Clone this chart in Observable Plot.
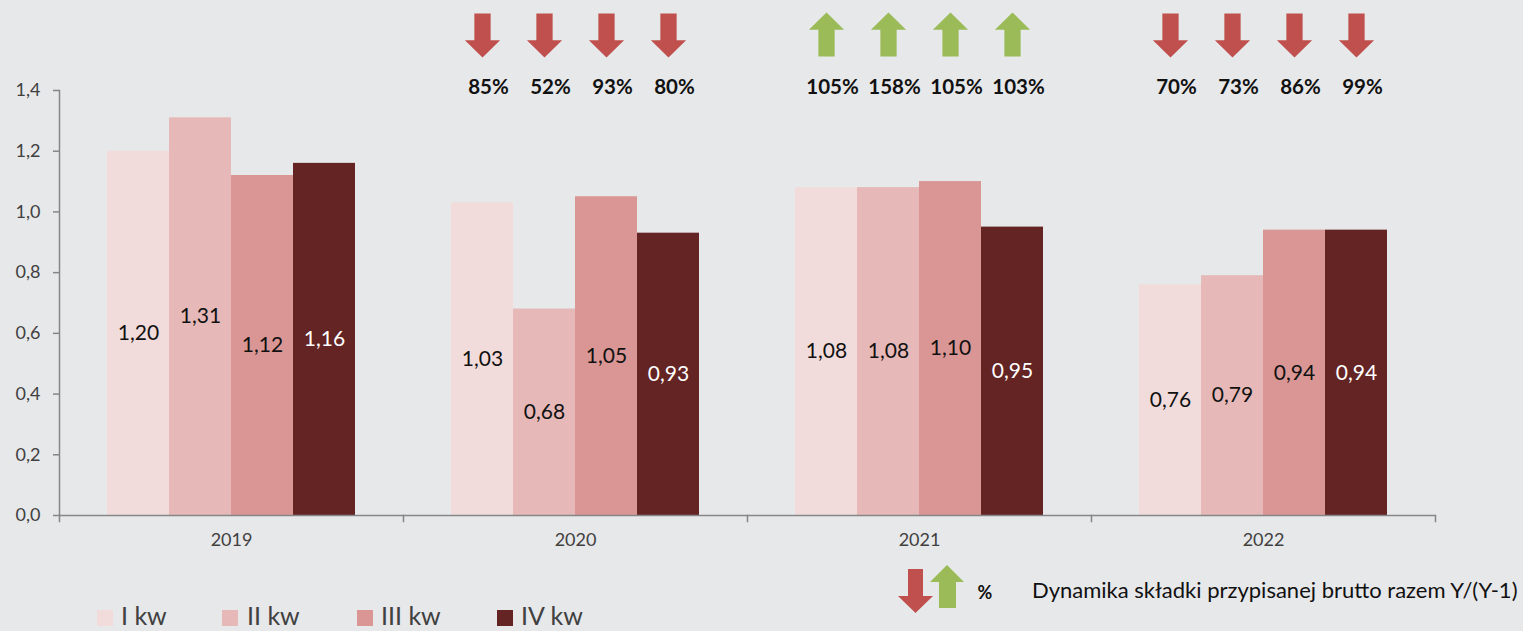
<!DOCTYPE html>
<html>
<head>
<meta charset="utf-8">
<script src="https://cdn.jsdelivr.net/npm/d3@7"></script>
<script src="https://cdn.jsdelivr.net/npm/@observablehq/plot@0.6"></script>
<style>
  html, body { margin: 0; padding: 0; background: #e7e8ea; }
  #wrap { position: relative; width: 1523px; height: 631px; background: #e7e8ea; overflow: hidden; font-family: Lato, "DejaVu Sans", sans-serif; }
  #chart { position: absolute; left: 0; top: 0; }
  #legend { position: absolute; left: 0; top: 0; }
</style>
</head>
<body>
<div id="wrap">
  <div id="chart"></div>
  <svg id="legend" width="1523" height="631"></svg>
</div>
<script>
// ---- data ----
const years = ["2019", "2020", "2021", "2022"];
const quarters = ["I kw", "II kw", "III kw", "IV kw"];
const values2019 = [1.20, 1.31, 1.12, 1.16];
const values2020 = [1.03, 0.68, 1.05, 0.93];
const values2021 = [1.08, 1.08, 1.10, 0.95];
const values2022 = [0.76, 0.79, 0.94, 0.94];
const dynamics2020 = [85, 52, 93, 80];
const dynamics2021 = [105, 158, 105, 103];
const dynamics2022 = [70, 73, 86, 99];
const yTicks = [0, 0.2, 0.4, 0.6, 0.8, 1.0, 1.2, 1.4];
const quarterColors = ["#f2dcdb", "#e6b9b8", "#d99694", "#632423"];
const legendText = "Dynamika składki przypisanej brutto razem Y/(Y-1)";

// ---- tables ----
const valuesByYear = [values2019, values2020, values2021, values2022];
const rows = [];
years.forEach((year, i) => quarters.forEach((quarter, j) => rows.push({year, quarter, value: valuesByYear[i][j]})));
const dynByYear = {"2020": dynamics2020, "2021": dynamics2021, "2022": dynamics2022};
const dynRows = [];
Object.entries(dynByYear).forEach(([year, arr]) => quarters.forEach((quarter, j) => dynRows.push({year, quarter, pct: arr[j]})));

const fmt = v => v.toFixed(2).replace(".", ",");
const fmtTick = v => v.toFixed(1).replace(".", ",");

// block arrow symbols (d3 symbol-type objects)
function blockArrow(dir) {
  return {
    draw(ctx, size) {
      const r = Math.sqrt(size / Math.PI);
      const sw = 0.37 * r, hw = 0.8 * r, hy = 0.22 * r * dir;
      ctx.moveTo(-sw, -r * dir);
      ctx.lineTo(sw, -r * dir);
      ctx.lineTo(sw, hy);
      ctx.lineTo(hw, hy);
      ctx.lineTo(0, r * dir);
      ctx.lineTo(-hw, hy);
      ctx.lineTo(-sw, hy);
      ctx.closePath();
    }
  };
}
const arrowDown = blockArrow(1);
const arrowUp = blockArrow(-1);
const RED = "#c0504d", GREEN = "#9bbb59", AXIS = "#868686", TEXT = "#404040";

const H = 560, MT = 90, MB = 45;
const chart = Plot.plot({
  width: 1523,
  height: H,
  marginLeft: 59,
  marginRight: 88,
  marginTop: MT,
  marginBottom: MB,
  style: {background: "transparent", fontFamily: "Lato, sans-serif", overflow: "visible"},
  fx: {domain: years, padding: 0, label: null, axis: null},
  x: {domain: quarters, paddingInner: 0, paddingOuter: 0.752, axis: null},
  y: {domain: [0, 1.4], axis: null, label: null},
  color: {domain: quarters, range: quarterColors},
  marks: [
    Plot.barY(rows, {fx: "year", x: "quarter", y: "value", fill: "quarter", inset: 0}),
    Plot.ruleY([0], {stroke: AXIS, strokeWidth: 1.5}),
    Plot.frame({anchor: "left", facetAnchor: "left", stroke: AXIS, strokeWidth: 1.5}),
    Plot.frame({anchor: "left", insetTop: H - MT - MB, insetBottom: -6, stroke: AXIS, strokeWidth: 1.5}),
    Plot.frame({anchor: "right", facetAnchor: "right", insetTop: H - MT - MB, insetBottom: -6, stroke: AXIS, strokeWidth: 1.5}),
    Plot.axisY({ticks: yTicks, tickFormat: fmtTick, tickSize: 6, tickPadding: 13, fontSize: 18, stroke: AXIS, fill: TEXT, strokeWidth: 1.5, label: null}),
    Plot.axisFx({anchor: "bottom", tickSize: 0, tickPadding: 18, fontSize: 18, fill: TEXT, label: null}),
    Plot.text(rows.filter(d => d.quarter !== "IV kw"), {fx: "year", x: "quarter", y: d => d.value / 2, text: d => fmt(d.value), fontSize: 21, fill: "#111"}),
    Plot.text(rows.filter(d => d.quarter === "IV kw"), {fx: "year", x: "quarter", y: d => d.value / 2, text: d => fmt(d.value), fontSize: 21, fill: "white"}),
    Plot.dot(dynRows.filter(d => d.pct < 100), {fx: "year", x: "quarter", frameAnchor: "top", dy: -55, r: 22, symbol: arrowDown, fill: RED}),
    Plot.dot(dynRows.filter(d => d.pct >= 100), {fx: "year", x: "quarter", frameAnchor: "top", dy: -56, r: 22, symbol: arrowUp, fill: GREEN}),
    Plot.text(dynRows, {fx: "year", x: "quarter", frameAnchor: "top", dy: -11, dx: 6, text: d => d.pct + "%", fontSize: 20.5, fontWeight: "bold", fill: "#111"})
  ]
});
document.getElementById("chart").appendChild(chart);

// ---- legend ----
const lg = d3.select("#legend");
const items = [
  {sx: 97, tx: 121},
  {sx: 222, tx: 247},
  {sx: 357, tx: 381},
  {sx: 497, tx: 521}
];
quarters.forEach((q, i) => {
  lg.append("rect").attr("x", items[i].sx).attr("y", 610).attr("width", 16).attr("height", 16).attr("fill", quarterColors[i]);
  lg.append("text").attr("x", items[i].tx).attr("y", 625).attr("font-family", "Lato, sans-serif").attr("font-size", 25).attr("fill", TEXT).text(q);
});
// arrows legend
const downPath = "M908,569 L923,569 L923,596 L933,596 L915.5,613 L898,596 L908,596 Z";
const upPath = "M947,565 L964,582 L956,582 L956,608 L939,608 L939,582 L930,582 Z";
lg.append("path").attr("d", downPath).attr("fill", RED);
lg.append("path").attr("d", upPath).attr("fill", GREEN);
lg.append("text").attr("x", 985).attr("y", 599).attr("text-anchor", "middle").attr("font-family", "Lato, sans-serif").attr("font-weight", "bold").attr("font-size", 18).attr("fill", "#111").text("%");
lg.append("text").attr("x", 1032).attr("y", 598).attr("font-family", "Lato, sans-serif").attr("font-size", 22).attr("fill", "#111").text(legendText);
</script>
</body>
</html>
